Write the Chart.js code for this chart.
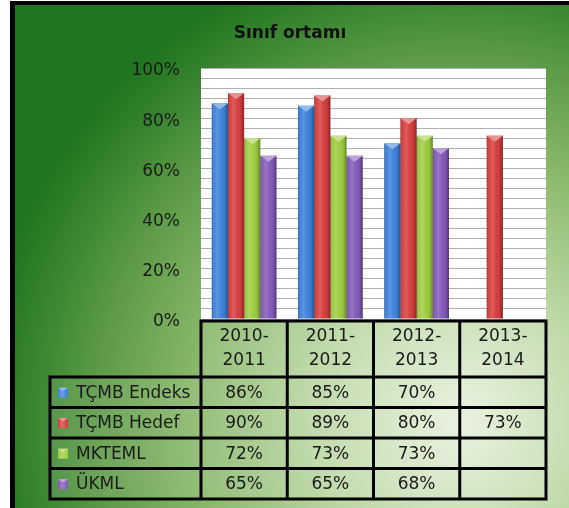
<!DOCTYPE html>
<html><head><meta charset="utf-8">
<script src="https://cdn.jsdelivr.net/npm/chart.js@4/dist/chart.umd.min.js"></script>
<style>html,body{margin:0;padding:0;background:#fff;overflow:hidden}#wrap{position:relative;width:569px;height:508px}</style>
</head><body><div id="wrap"><canvas id="c" width="569" height="508"></canvas></div>
<script>
const titleText = 'Sınıf ortamı';
const categories = [['2010-','2011'],['2011-','2012'],['2012-','2013'],['2013-','2014']];
const seriesNames = ['TÇMB Endeks','TÇMB Hedef','MKTEML','ÜKML'];
const endeks = [86, 85, 70, null];
const hedef = [90, 89, 80, 73];
const mkteml = [72, 73, 73, null];
const ukml = [65, 65, 68, null];
const yTickLabels = ['0%','20%','40%','60%','80%','100%'];
const seriesColors = ['#3a7fd8','#d43a3a','#9ccb3c','#8057b8'];

const FONT = "'DejaVu Sans', sans-serif";
const TXT = '#1a1a1a';

function lighten(hex, f){
  const n=parseInt(hex.slice(1),16);let r=n>>16,g=(n>>8)&255,b=n&255;
  r=Math.round(r+(255-r)*f);g=Math.round(g+(255-g)*f);b=Math.round(b+(255-b)*f);
  return `rgb(${r},${g},${b})`;
}

const bgPlugin = {
  id:'bg',
  beforeDraw(chart){
    const ctx=chart.ctx, W=chart.width, H=chart.height, ca=chart.chartArea;
    ctx.save();
    ctx.fillStyle='#fff';ctx.fillRect(0,0,W,H);
    ctx.fillStyle='#000';ctx.fillRect(10,1,W-10,H-1);
    ctx.save();
    ctx.beginPath();ctx.rect(15,5,W-15,H-5);ctx.clip();
    const cx=460, cy=420, r=480;
    const g=ctx.createRadialGradient(cx,cy,0,cx,cy,r);
    g.addColorStop(0,'#e8f2e0');
    g.addColorStop(0.3,'#bcd8a4');
    g.addColorStop(0.55,'#8ab96c');
    g.addColorStop(0.75,'#5e9c48');
    g.addColorStop(0.95,'#2a7c26');
    g.addColorStop(1,'#207520');
    ctx.fillStyle=g;
    ctx.fillRect(0,0,W,H);
    ctx.restore();
    ctx.fillStyle='#ffffff';
    ctx.fillRect(ca.left,ca.top,ca.right-ca.left,ca.bottom-ca.top);
    ctx.restore();
  }
};

const barShade = {
  id:'barShade',
  afterDatasetsDraw(chart){
    const ctx=chart.ctx;
    chart.data.datasets.forEach((ds,di)=>{
      const meta=chart.getDatasetMeta(di);
      meta.data.forEach((el,i)=>{
        if(ds.data[i]==null) return;
        const p=el.getProps(['x','y','base','width'],true);
        const l=p.x-p.width/2, r=p.x+p.width/2, t=p.y, b=p.base;
        ctx.save();
        const g=ctx.createLinearGradient(l,0,r,0);
        g.addColorStop(0,'rgba(0,0,0,0.28)');
        g.addColorStop(0.15,'rgba(255,255,255,0.05)');
        g.addColorStop(0.35,'rgba(255,255,255,0.18)');
        g.addColorStop(0.6,'rgba(255,255,255,0.02)');
        g.addColorStop(0.85,'rgba(0,0,0,0.12)');
        g.addColorStop(1,'rgba(0,0,0,0.35)');
        ctx.fillStyle=g;
        ctx.fillRect(l,t,r-l,b-t);
        ctx.beginPath();
        ctx.moveTo(l,t);ctx.lineTo(r,t);ctx.lineTo(p.x,t+6);ctx.closePath();
        ctx.fillStyle=lighten(seriesColors[di],0.45);
        ctx.fill();
        ctx.restore();
      });
    });
  }
};

const tablePlugin = {
  id:'dataTable',
  afterDraw(chart){
    const ctx=chart.ctx, ca=chart.chartArea, xs=chart.scales.x;
    const n=categories.length;
    const colW=(ca.right-ca.left)/n;
    const edges=[];
    for(let i=0;i<n;i++) edges.push(xs.getPixelForValue(i)-colW/2);
    edges.push(xs.getPixelForValue(n-1)+colW/2);
    const top=ca.bottom+2, hb=top+56, rowH=30.5, legL=50;
    const rows=[hb];
    for(let k=1;k<=seriesNames.length;k++) rows.push(hb+k*rowH);
    const bottom=rows[rows.length-1];
    ctx.save();
    ctx.fillStyle='rgba(255,255,255,0.10)';
    ctx.fillRect(edges[0],top,edges[n]-edges[0],hb-top);
    ctx.fillRect(legL,hb,edges[n]-legL,bottom-hb);
    ctx.fillStyle=TXT;
    ctx.font='17px '+FONT;
    ctx.textBaseline='middle';
    ctx.textAlign='center';
    categories.forEach((c,i)=>{
      const cx=(edges[i]+edges[i+1])/2;
      ctx.fillText(c[0],cx,337);
      ctx.fillText(c[1],cx,361);
    });
    const vals=[endeks,hedef,mkteml,ukml];
    vals.forEach((arr,k)=>{
      const cy=(rows[k]+rows[k+1])/2+1;
      arr.forEach((v,i)=>{
        if(v==null) return;
        ctx.fillText(v+'%',(edges[i]+edges[i+1])/2,cy);
      });
      const mx=58,my=cy-5.5,ms=10;
      const mg=ctx.createLinearGradient(mx,0,mx+ms,0);
      mg.addColorStop(0,seriesColors[k]);mg.addColorStop(0.4,lighten(seriesColors[k],0.25));mg.addColorStop(1,seriesColors[k]);
      ctx.fillStyle=mg;ctx.fillRect(mx,my,ms,ms);
      ctx.beginPath();ctx.moveTo(mx,my);ctx.lineTo(mx+ms,my);ctx.lineTo(mx+ms/2,my+3);ctx.closePath();
      ctx.fillStyle=lighten(seriesColors[k],0.5);ctx.fill();
      ctx.fillStyle=TXT;
      ctx.textAlign='left';
      ctx.fillText(seriesNames[k],76,cy);
      ctx.textAlign='center';
    });
    ctx.strokeStyle='#000';ctx.lineWidth=3;ctx.lineCap='square';
    ctx.beginPath();
    ctx.moveTo(edges[0],top);ctx.lineTo(edges[n],top);
    rows.forEach(y=>{ctx.moveTo(legL,y);ctx.lineTo(edges[n],y);});
    edges.forEach(x=>{ctx.moveTo(x,top);ctx.lineTo(x,bottom);});
    ctx.moveTo(legL,hb);ctx.lineTo(legL,bottom);
    ctx.stroke();
    ctx.restore();
  }
};

const datasets=[endeks,hedef,mkteml,ukml].map((d,i)=>({
  label:seriesNames[i],
  data:d,
  backgroundColor:seriesColors[i],
  borderWidth:0,
  categoryPercentage:0.75,
  barPercentage:1.0
}));

new Chart(document.getElementById('c'),{
  type:'bar',
  data:{labels:categories.map(c=>c.join('')),datasets},
  options:{
    responsive:false,
    devicePixelRatio:1,
    animation:false,
    layout:{padding:{left:34,right:23,top:0,bottom:189}},
    plugins:{
      legend:{display:false},
      tooltip:{enabled:false},
      title:{display:true,text:titleText,color:'#111',
        font:{family:FONT,size:17,weight:'bold',lineHeight:1.2},
        padding:{top:23,bottom:24.6}}
    },
    scales:{
      x:{display:false},
      y:{
        min:0,max:100,
        afterFit(s){s.width=167;},
        border:{display:false},
        grid:{color:'#b0b0b0',lineWidth:1,drawTicks:false},
        ticks:{stepSize:4,autoSkip:false,padding:21,labelOffset:3,color:TXT,
          font:{family:FONT,size:17},
          callback:(v)=>{const k=Math.round(v/20);return (Math.abs(v-k*20)<1e-6)?yTickLabels[k]:'';}}
      }
    }
  },
  plugins:[bgPlugin,barShade,tablePlugin]
});
</script>
</body></html>
